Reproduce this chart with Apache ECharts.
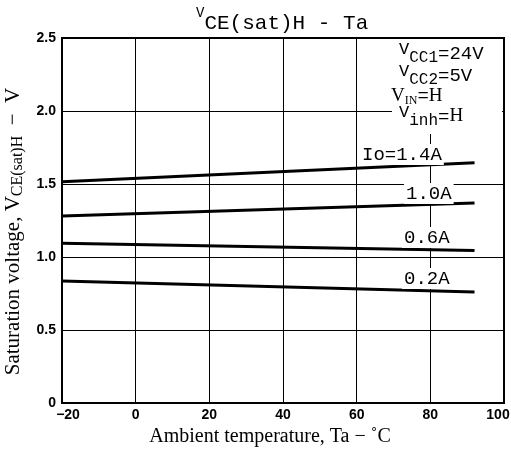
<!DOCTYPE html>
<html>
<head>
<meta charset="utf-8">
<script src="https://cdn.jsdelivr.net/npm/echarts@6/dist/echarts.min.js"></script>
<style>
  html, body { margin: 0; padding: 0; background: #fff; }
  #chart { width: 511px; height: 455px; }
</style>
</head>
<body>
<div id="chart"></div>
<script>
// temperature points (°C) and saturation voltage (V) for each output current
const temps = [-20, 92]
const io14 = [1.515, 1.645]
const io10 = [1.28, 1.37]
const io06 = [1.095, 1.045]
const io02 = [0.835, 0.76]
const curveLabels = ['Io=1.4A', '1.0A', '0.6A', '0.2A']
const xTickLabels = ['−20', '0', '20', '40', '60', '80', '100']
const yTickLabels = ['0', '0.5', '1.0', '1.5', '2.0', '2.5']

const chart = echarts.init(document.getElementById('chart'))

const mono = 'Liberation Mono'
const serif = 'Liberation Serif'

function pairs(ys) {
  return temps.map((t, i) => [t, ys[i]])
}

function curve(name, ys) {
  return {
    name: name,
    type: 'line',
    data: pairs(ys),
    showSymbol: false,
    silent: true,
    lineStyle: { color: '#000', width: 3 },
    z: 3
  }
}

// curve label with a white box, it cuts the grid lines like in the datasheet
function note(x, y, text) {
  return {
    type: 'text',
    x: x,
    y: y,
    z: 100,
    style: {
      text: text,
      fill: '#000',
      font: '19px ' + mono,
      backgroundColor: '#fff',
      padding: [1, 2]
    }
  }
}

const subRich = {
  v: { fontFamily: mono, fontSize: 17, color: '#000', verticalAlign: 'top', lineHeight: 25 },
  s: { fontFamily: mono, fontSize: 16, color: '#000', verticalAlign: 'bottom', lineHeight: 25 },
  t: { fontFamily: mono, fontSize: 19, color: '#000', lineHeight: 22 },
  vs: { fontFamily: serif, fontSize: 19, color: '#000', lineHeight: 22 },
  ss: { fontFamily: serif, fontSize: 12, color: '#000', verticalAlign: 'bottom', lineHeight: 22 },
  h: { fontFamily: serif, fontSize: 19, color: '#000', lineHeight: 22 }
}

function cond(x, y, text) {
  return { type: 'text', x: x, y: y, z: 100, style: { text: text, rich: subRich } }
}

const option = {
  animation: false,
  backgroundColor: '#fff',
  grid: {
    left: 62, right: 7, top: 38, bottom: 52,
    outerBoundsMode: 'none',
    containLabel: false,
    show: true,
    borderColor: '#000',
    borderWidth: 2
  },
  xAxis: {
    type: 'value',
    min: -20,
    max: 100,
    interval: 20,
    name: 'Ambient temperature, Ta − ˚C',
    nameLocation: 'middle',
    nameGap: 21,
    nameTextStyle: {
      fontFamily: serif, fontSize: 20, color: '#000',
      verticalAlign: 'top', padding: [0, 26, 0, 0]
    },
    axisLine: { show: true, onZero: false, lineStyle: { color: '#000', width: 2 } },
    axisTick: { show: false },
    splitLine: { show: true, lineStyle: { color: '#000', width: 1 } },
    axisLabel: {
      margin: 5,
      fontFamily: 'Liberation Sans', fontWeight: 'bold', fontSize: 14, color: '#000',
      formatter: v => {
        const i = Math.round((v + 20) / 20)
        if (i === 0) return '{first|' + xTickLabels[i] + '}'
        if (i === xTickLabels.length - 1) return '{last|' + xTickLabels[i] + '}'
        return xTickLabels[i]
      },
      rich: {
        first: { fontFamily: 'Liberation Sans', fontWeight: 'bold', fontSize: 14, color: '#000', padding: [0, 0, 0, 12] },
        last: { fontFamily: 'Liberation Sans', fontWeight: 'bold', fontSize: 14, color: '#000', padding: [0, 12, 0, 0] }
      }
    }
  },
  yAxis: {
    type: 'value',
    min: 0,
    max: 2.5,
    interval: 0.5,
    name: 'Saturation voltage, V{s|CE(sat)H}  −  V',
    nameLocation: 'middle',
    nameGap: 30,
    nameRotate: 90,
    nameTextStyle: {
      fontFamily: serif, fontSize: 21, color: '#000',
      padding: [0, 22, 0, 0],
      rich: {
        s: { fontFamily: serif, fontSize: 16, color: '#000', verticalAlign: 'bottom', padding: [8, 0, 0, 0] }
      }
    },
    axisLine: { show: true, onZero: false, lineStyle: { color: '#000', width: 2 } },
    axisTick: { show: false },
    splitLine: { show: true, lineStyle: { color: '#000', width: 1 } },
    axisLabel: {
      margin: 6,
      fontFamily: 'Liberation Sans', fontWeight: 'bold', fontSize: 14, color: '#000',
      formatter: v => yTickLabels[Math.round(v / 0.5)]
    }
  },
  series: [
    curve(curveLabels[0], io14),
    curve(curveLabels[1], io10),
    curve(curveLabels[2], io06),
    curve(curveLabels[3], io02)
  ],
  graphic: [
    // chart title
    {
      type: 'text', x: 196, y: 6, z: 100,
      style: {
        text: '{v|V}{t|CE(sat)H - Ta}',
        rich: {
          v: { fontFamily: mono, fontSize: 14, color: '#000', verticalAlign: 'top', lineHeight: 24 },
          t: { fontFamily: mono, fontSize: 21, color: '#000', verticalAlign: 'bottom', lineHeight: 28 }
        }
      }
    },
    // white area behind test conditions
    {
      type: 'rect', z: 90,
      shape: { x: 392, y: 39, width: 110, height: 95 },
      style: { fill: '#fff' }
    },
    cond(399, 41, '{v|V}{s|CC1}{t|=24V}'),
    cond(399, 63, '{v|V}{s|CC2}{t|=5V}'),
    cond(391, 85, '{vs|V}{ss|IN}{t|=}{h|H}'),
    cond(399, 104, '{v|V}{s|inh}{t|=}{h|H}'),
    // curve labels
    note(360, 144, curveLabels[0]),
    note(404, 183, curveLabels[1]),
    note(402, 227, curveLabels[2]),
    note(402, 268, curveLabels[3])
  ]
}

chart.setOption(option)
</script>
</body>
</html>
